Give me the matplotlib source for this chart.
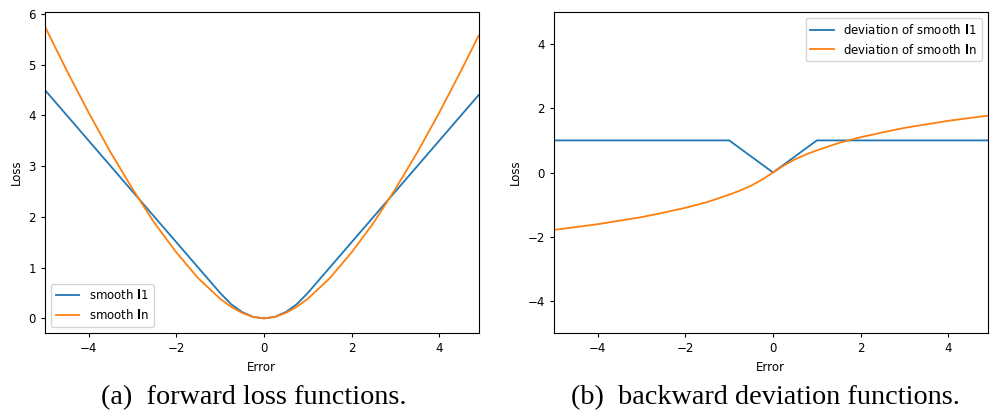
import matplotlib
matplotlib.use("Agg")
import matplotlib.pyplot as plt

# error values on the x axis
error = [-5.0, -4.5, -4.0, -3.5, -3.0, -2.5, -2.0, -1.5, -1.0, -0.75, -0.5, -0.25,
         0.0, 0.25, 0.5, 0.75, 1.0, 1.5, 2.0, 2.5, 3.0, 3.5, 4.0, 4.5, 4.9]

# forward losses
smooth_l1 = [4.5, 4.0, 3.5, 3.0, 2.5, 2.0, 1.5, 1.0, 0.5, 0.28, 0.125, 0.03,
             0.0, 0.03, 0.125, 0.28, 0.5, 1.0, 1.5, 2.0, 2.5, 3.0, 3.5, 4.0, 4.4]
smooth_ln = [5.75, 4.88, 4.05, 3.27, 2.55, 1.88, 1.30, 0.79, 0.386, 0.229, 0.108, 0.029,
             0.0, 0.029, 0.108, 0.229, 0.386, 0.79, 1.30, 1.88, 2.55, 3.27, 4.05, 4.88, 5.57]

# backward deviations
dev_l1 = [1.0, 1.0, 1.0, 1.0, 1.0, 1.0, 1.0, 1.0, 1.0, 0.75, 0.5, 0.25,
          0.0, 0.25, 0.5, 0.75, 1.0, 1.0, 1.0, 1.0, 1.0, 1.0, 1.0, 1.0, 1.0]
dev_ln = [-1.79, -1.70, -1.61, -1.50, -1.39, -1.25, -1.10, -0.92, -0.69, -0.56, -0.41, -0.22,
          0.0, 0.22, 0.41, 0.56, 0.69, 0.92, 1.10, 1.25, 1.39, 1.50, 1.61, 1.70, 1.77]

captions = ["(a)  forward loss functions.", "(b)  backward deviation functions."]

fs = 8.5
plt.rcParams['font.size'] = fs
plt.rcParams['xtick.major.size'] = 3
plt.rcParams['ytick.major.size'] = 3
plt.rcParams['lines.linewidth'] = 1.3

fig = plt.figure(figsize=(9.91, 4.19), dpi=100)
ax1 = fig.add_axes([0.0454, 0.2053, 0.4375, 0.766])
ax2 = fig.add_axes([0.559, 0.2053, 0.4377, 0.766])

ax1.plot(error, smooth_l1, label=r"smooth $\mathbf{l}$1")
ax1.plot(error, smooth_ln, label=r"smooth $\mathbf{l}$n")
ax1.set_xlim(-5, 4.9)
ax1.set_xlabel("Error", fontsize=fs)
ax1.set_ylabel("Loss", fontsize=fs)
ax1.legend(loc="lower left", fontsize=fs)

ax2.plot(error, dev_l1, label=r"deviation of smooth $\mathbf{l}$1")
ax2.plot(error, dev_ln, label=r"deviation of smooth $\mathbf{l}$n")
ax2.set_xlim(-5, 4.9)
ax2.set_ylim(-5, 5)
ax2.set_yticks([-4, -2, 0, 2, 4])
ax2.set_xlabel("Error", fontsize=fs)
ax2.set_ylabel("Loss", fontsize=fs)
ax2.legend(loc="upper right", fontsize=fs)

# subfigure captions, slightly left of the axes centre like the paper layout
for ax, cap, cx in zip([ax1, ax2], captions, [0.481, 0.487]):
    ax.tick_params(labelsize=fs)
    ax.text(cx, -0.2, cap, transform=ax.transAxes, ha="center", va="center",
            fontsize=20.3, family="Liberation Serif")

fig.savefig("out.png", dpi=100)
